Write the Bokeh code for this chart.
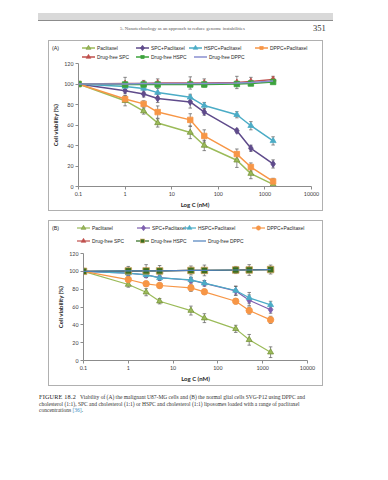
from bokeh.plotting import figure
from bokeh.models import (Whisker, ColumnDataSource, FixedTicker, Div, TeeHead,
                          NumeralTickFormatter)
from bokeh.layouts import column
from bokeh.embed import file_html
from bokeh.resources import INLINE

# ---------------- data ----------------
conc = [0.1, 1, 2.5, 5, 25, 50, 250, 500, 1500]
x_ticks = [0.1, 1, 10, 100, 1000, 10000]
y_ticks = [0, 20, 40, 60, 80, 100, 120]

series_names = ["Paclitaxel", "SPC+Paclitaxel", "HSPC+Paclitaxel", "DPPC+Paclitaxel",
                "Drug-free SPC", "Drug-free HSPC", "Drug-free DPPC"]

# Chart A: malignant U87-MG cells
a_pac = [100, 83.7, 73.6, 62.0, 52.7, 40.0, 25.6, 12.6, 2.0]
a_pac_err = [0, 5, 3, 4, 6, 5, 7, 5, 3]
a_spc = [100, 93.5, 90.3, 85.9, 82.5, 72.6, 54.3, 37.3, 22.0]
a_spc_err = [0, 3, 3, 4, 6, 3, 2, 3, 4]
a_hspc = [100, 97.6, 95.7, 91.6, 87.0, 79.0, 70.0, 59.3, 44.5]
a_hspc_err = [0, 3, 4, 4, 3, 3, 3, 4, 4]
a_dppc = [100, 85.3, 80.6, 72.6, 65.0, 49.3, 31.6, 19.0, 5.0]
a_dppc_err = [0, 3, 3, 6, 6, 6, 5, 4, 3]
a_free_spc = [100, 100.5, 100.5, 101, 101, 101, 101.5, 102.5, 104.5]
a_free_hspc = [100, 99.5, 99.5, 99.5, 99.5, 99.5, 100, 100.5, 102]
a_free_dppc = [100, 100, 100.5, 100.5, 100.5, 100.5, 101, 101.5, 103]
a_free_err = [0, 6, 3, 4, 6, 4, 6, 4, 3]

# Chart B: normal glial cells SVG-P12
b_pac = [100, 85.2, 76.6, 66.5, 56.0, 47.5, 35.5, 23.2, 9.3]
b_pac_err = [0, 3, 4, 3, 5, 5, 4, 6, 6]
b_spc = [100, 98.0, 96.0, 93.0, 90.0, 86.5, 78.0, 67.5, 57.0]
b_spc_err = [0, 3, 3, 3, 3, 3, 5, 6, 4]
b_hspc = [100, 97.9, 96.0, 92.7, 90.4, 86.7, 78.5, 70.3, 62.4]
b_hspc_err = [0, 3, 3, 3, 3, 3, 5, 6, 4]
b_dppc = [100, 90.8, 86.0, 84.1, 81.5, 77.0, 66.5, 56.0, 45.6]
b_dppc_err = [0, 3, 3, 3, 4, 3, 3, 4, 4]
b_free_spc = [100, 100, 100.5, 100.5, 101, 101, 101.5, 102, 102]
b_free_hspc = [100, 100.5, 100.5, 100.5, 101, 101, 101.5, 101.5, 102]
b_free_dppc = [100, 100.5, 100.5, 100.5, 101, 101, 101.5, 101.5, 102]
b_free_err = [0, 5, 7, 6, 5, 6, 4, 6, 5]

FONT = "Lato"
ERR_COLOR = "#5a5a5a"

# series styles: (color, marker, size, fill, marker line)
styleA = [("#9BBB59", "triangle", 6, "#9BBB59", "#77933C"),
          ("#5F4B8B", "diamond", 7, "#5F4B8B", "#5F4B8B"),
          ("#4BACC6", "triangle", 6, "#4BACC6", "#4BACC6"),
          ("#F79646", "square", 5.5, "#F79646", "#F79646"),
          ("#C0504D", "triangle", 6, "#C0504D", "#C0504D"),
          ("#3DA33D", "square", 5.5, "#3DA33D", "#3DA33D"),
          ("#8A8FD0", None, 0, None, None)]
styleB = [("#9BBB59", "triangle", 6, "#9BBB59", "#77933C"),
          ("#7E5FAF", "diamond", 7, "#7E5FAF", "#7E5FAF"),
          ("#4BACC6", "triangle", 6, "#4BACC6", "#4BACC6"),
          ("#F79646", "circle", 6.5, "#F79646", "#F79646"),
          ("#C0504D", "triangle", 6, "#C0504D", "#C0504D"),
          ("#2F6B1F", "square", 6.5, "#3B6E1E", "#C9A15A"),
          ("#4F81BD", None, 0, None, None)]


def add_series(p, xs, ys, errs, style, lw):
    color, marker, size, fill, mline = style
    p.line(xs, ys, line_color=color, line_width=lw)
    if marker is not None:
        p.scatter(xs, ys, marker=marker, size=size,
                  fill_color=fill, line_color=mline, line_width=0.8)
    if errs is not None:
        ex = [c for c, e in zip(xs, errs) if e > 0]
        up = [y + e for y, e in zip(ys, errs) if e > 0]
        lo = [y - e for y, e in zip(ys, errs) if e > 0]
        src = ColumnDataSource(dict(x=ex, upper=up, lower=lo))
        w = Whisker(source=src, base="x", upper="upper", lower="lower", dimension="height",
                    line_color=ERR_COLOR, line_width=0.7,
                    upper_head=TeeHead(size=3.5, line_color=ERR_COLOR, line_width=0.7),
                    lower_head=TeeHead(size=3.5, line_color=ERR_COLOR, line_width=0.7))
        p.add_layout(w)


def chart_fig(width, height, left, right, top, bottom):
    p = figure(width=width, height=height, x_axis_type="log",
               x_range=(0.1, 10000), y_range=(0, 120),
               output_backend="svg", toolbar_location=None,
               min_border_left=left, min_border_right=right,
               min_border_top=top, min_border_bottom=bottom,
               background_fill_color="white", border_fill_color="white")
    p.outline_line_color = None
    p.xgrid.visible = False
    p.ygrid.visible = False
    p.xaxis.ticker = FixedTicker(ticks=x_ticks)
    p.xaxis.formatter = NumeralTickFormatter(format="0.[0]")
    p.yaxis.ticker = FixedTicker(ticks=y_ticks)
    for ax in (p.xaxis[0], p.yaxis[0]):
        ax.axis_line_color = "#8c8c8c"
        ax.major_tick_line_color = "#8c8c8c"
        ax.minor_tick_line_color = None
        ax.major_tick_out = 3
        ax.major_tick_in = 0
        ax.major_label_text_font = FONT
        ax.major_label_text_font_size = "5.3px"
        ax.major_label_text_color = "#404040"
        ax.major_label_standoff = 2
        ax.axis_label_text_font = FONT
        ax.axis_label_text_font_size = "6px"
        ax.axis_label_text_font_style = "bold"
        ax.axis_label_text_color = "#262626"
        ax.axis_label_standoff = 2
    p.xaxis.axis_label = "Log C (nM)"
    p.yaxis.axis_label = "Cell viability (%)"
    return p


def marker_svg(marker, cx, cy, size, fill, mline):
    if marker == "triangle":
        r = size * 0.45
        pts = f"{cx},{cy - r} {cx - r * 0.87},{cy + r * 0.5} {cx + r * 0.87},{cy + r * 0.5}"
        return f'<polygon points="{pts}" fill="{fill}" stroke="{mline}" stroke-width="0.6"/>'
    if marker == "diamond":
        r = size * 0.4
        pts = f"{cx},{cy - r} {cx + r * 0.75},{cy} {cx},{cy + r} {cx - r * 0.75},{cy}"
        return f'<polygon points="{pts}" fill="{fill}" stroke="{mline}" stroke-width="0.6"/>'
    if marker == "square":
        s = size * 0.6
        return (f'<rect x="{cx - s / 2}" y="{cy - s / 2}" width="{s}" height="{s}" '
                f'fill="{fill}" stroke="{mline}" stroke-width="0.6"/>')
    if marker == "circle":
        return (f'<circle cx="{cx}" cy="{cy}" r="{size * 0.33}" fill="{fill}" '
                f'stroke="{mline}" stroke-width="0.6"/>')
    return ""


def legend_div(width, height, styles, positions, tag, lw):
    parts = [f'<svg xmlns="http://www.w3.org/2000/svg" width="{width}" height="{height}" '
             f'style="display:block">']
    parts.append(f'<text x="3" y="{positions[0][1]}" dominant-baseline="central" '
                 f'font-family="{FONT}" font-size="5.3px" fill="#262626">{tag}</text>')
    for name, st, (x, y) in zip(series_names, styles, positions):
        color, marker, size, fill, mline = st
        parts.append(f'<line x1="{x}" y1="{y}" x2="{x + 13}" y2="{y}" stroke="{color}" '
                     f'stroke-width="{lw}"/>')
        if marker is not None:
            parts.append(marker_svg(marker, x + 6.5, y, size, fill, mline))
        parts.append(f'<text x="{x + 15}" y="{y}" dominant-baseline="central" '
                     f'font-family="{FONT}" font-size="4.9px" fill="#262626">{name}</text>')
    parts.append('</svg>')
    return Div(text="".join(parts), width=width, height=height, margin=(0, 0, 0, 0))


# ---------------- Chart A ----------------
pa = chart_fig(273, 150, 26, 11, 3, 20)
for ys, errs, st in zip([a_pac, a_spc, a_hspc, a_dppc, a_free_spc, a_free_hspc, a_free_dppc],
                        [a_pac_err, a_spc_err, a_hspc_err, a_dppc_err, a_free_err, None, None],
                        styleA):
    add_series(pa, conc, ys, errs, st, 1.5)
la = legend_div(273, 19, styleA,
                [(33, 7), (87, 7), (140, 7), (206, 7), (33, 16), (87, 16), (145, 16)],
                "(A)", 1.5)
boxA = column(la, pa, spacing=0, margin=(2, 0, 0, 48),
              styles={"border": "1px solid #b0b0b0"})

# ---------------- Chart B ----------------
pb = chart_fig(273, 138, 34, 15, 6, 25)
for ys, errs, st in zip([b_pac, b_spc, b_hspc, b_dppc, b_free_spc, b_free_hspc, b_free_dppc],
                        [b_pac_err, b_spc_err, b_hspc_err, b_dppc_err, None, b_free_err, None],
                        styleB):
    add_series(pb, conc, ys, errs, st, 1.2)
lb = legend_div(273, 26, styleB,
                [(28, 7), (88, 7), (134, 7), (203, 7), (28, 20), (87, 20), (144, 20)],
                "(B)", 1.2)
boxB = column(lb, pb, spacing=0, margin=(9, 0, 0, 48),
              styles={"border": "1px solid #b0b0b0"})

# ---------------- page text ----------------
header_html = (
    '<div style="position:relative;width:372px;height:30px;">'
    '<div style="position:absolute;left:30px;top:5px;width:295px;height:7px;background:#d9d9d9;"></div>'
    '<div style="position:absolute;left:30px;top:12px;width:295px;height:1px;background:#8c8c8c;"></div>'
    '<div style="position:absolute;left:112px;top:18px;font-family:\'Liberation Serif\',serif;'
    'font-size:4.8px;line-height:6px;color:#555;white-space:nowrap;">'
    '5. Nanotechnology as an approach to reduce genome instabilities</div>'
    '<div style="position:absolute;left:305px;top:15px;font-family:\'Liberation Serif\',serif;'
    'font-size:8.5px;line-height:10px;color:#333;white-space:nowrap;">351</div>'
    '</div>'
)
header = Div(text=header_html, width=372, height=30, margin=(8, 0, 0, 8))

caption_html = (
    '<div style="position:relative;width:372px;height:24px;">'
    '<div style="position:absolute;left:31px;top:0px;font-family:\'Liberation Serif\',serif;'
    'font-size:5.5px;line-height:6.6px;color:#333;white-space:nowrap;">'
    '<span style="font-size:6.2px;letter-spacing:0.2px;color:#222;">FIGURE 18.2</span>&nbsp;&nbsp;&nbsp;'
    'Viability of (A) the malignant U87-MG cells and (B) the normal glial cells SVG-P12 using DPPC and<br>'
    'cholesterol (1:1), SPC and cholesterol (1:1) or HSPC and cholesterol (1:1) liposomes loaded with a range of paclitaxel<br>'
    'concentrations <span style="color:#3d8fc4;">[36]</span>.'
    '</div></div>'
)
caption = Div(text=caption_html, width=372, height=24, margin=(8, 0, 0, 8))

layout = column(header, boxA, boxB, caption, spacing=0)

open("out.html", "w").write(file_html(layout, INLINE))
